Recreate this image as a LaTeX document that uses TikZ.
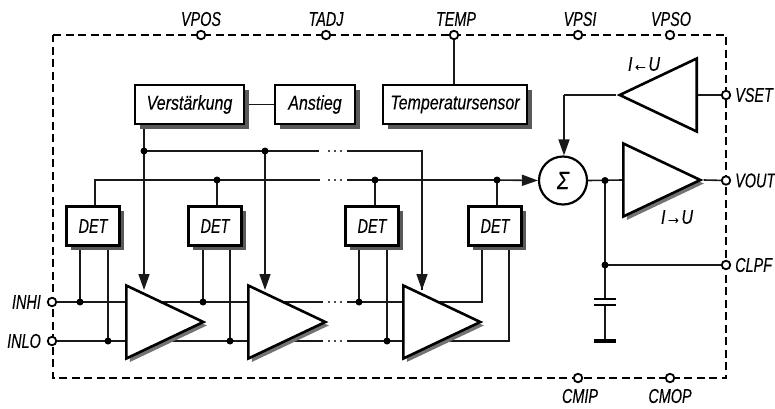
\documentclass[tikz,border=0pt]{standalone}
\usepackage{fontspec}
\setmainfont{Liberation Sans}[ItalicFont={Liberation Sans Italic},ItalicFeatures={FakeBold=0.2},FakeStretch=0.8]
\newfontfamily\pinfont{Liberation Sans Italic}[FakeBold=0.2,FakeStretch=0.72]
\usetikzlibrary{arrows.meta,shapes.geometric,shadows,backgrounds}
\tikzset{
  x=1pt,y=-1pt,
  every node/.style={font=\itshape\fontsize{20}{20}\selectfont,inner sep=0pt},
  pinlabel/.style={font=\pinfont\fontsize{20}{20}\selectfont},
  wire/.style={line width=1.6pt,draw=black!90},
  arrowwire/.style={wire,-{Triangle[length=16pt,width=11pt]}},
  framedash/.style={line width=2.4pt,dash pattern=on 8pt off 4.5pt},
  dotgap/.style={line width=1.6pt,draw=black!70,dash pattern=on 2pt off 4pt},
  boxnode/.style={draw,fill=white,line width=2.4pt,minimum height=39pt,
    general shadow={shadow xshift=4.5pt,shadow yshift=-4.5pt,fill=black!65}},
  detbox/.style={boxnode,pinlabel,minimum width=53pt},
  pin/.style={circle,draw,fill=white,line width=1.8pt,minimum size=8.5pt},
  junc/.style={circle,fill=black,minimum size=7pt},
  tri/.style={isosceles triangle,isosceles triangle stretches,draw,fill=white,
    line width=2.6pt,minimum width=73pt,minimum height=77pt,anchor=lower side},
  ampshadow/.style={general shadow={shadow xshift=3.5pt,shadow yshift=-3.5pt,fill=black!55}},
}
\begin{document}
\begin{tikzpicture}
\useasboundingbox (0,0) rectangle (775,408);
% function blocks
\node[boxnode,minimum width=109pt] (verst) at (189.5,104.5) {Verstärkung};
\node[boxnode,minimum width=80pt] (anst) at (315,104.5) {Anstieg};
\node[boxnode,minimum width=144pt] (tsens) at (455,104.5) {Temperatursensor};
\node[detbox] (det1) at (93,226) {DET};
\node[detbox] (det2) at (215,226) {DET};
\node[detbox] (det3) at (372,226) {DET};
\node[detbox] (det4) at (495,226) {DET};
% amplifiers
\node[tri,ampshadow] (amp1) at (125,322) {};
\node[tri,ampshadow] (amp2) at (247,322) {};
\node[tri,ampshadow] (amp3) at (402,322) {};
\node[tri,ampshadow] (amp4) at (622,180) {};
\node[tri,shape border rotate=180] (amp5) at (698,95) {};
\node[circle,draw,fill=white,line width=2.2pt,minimum size=48pt,font=\itshape\fontsize{25}{25}\selectfont] (sum) at (563,180.5) {Σ};
% pins
\node[pin] (vpos) at (201,35) {};
\node[pin] (tadj) at (326,35) {};
\node[pin] (temp) at (454,35) {};
\node[pin] (vpsi) at (578,35) {};
\node[pin] (vpso) at (670,35) {};
\node[pin] (vset) at (726,95) {};
\node[pin] (vout) at (726,180.5) {};
\node[pin] (clpf) at (726,265) {};
\node[pin] (inhi) at (52,302) {};
\node[pin] (inlo) at (52,341) {};
\node[pin] (cmip) at (578,378) {};
\node[pin] (cmop) at (670,378) {};
% pin labels
\node[pinlabel] (lvpos) at (201,19) {VPOS};
\node[pinlabel] (ltadj) at (326,19) {TADJ};
\node[pinlabel] (ltemp) at (456,19) {TEMP};
\node[pinlabel] (lvpsi) at (580,19) {VPSI};
\node[pinlabel] (lvpso) at (671,19) {VPSO};
\node[pinlabel,anchor=west] (lvset) at (735,95) {VSET};
\node[pinlabel,anchor=west] (lvout) at (735,180.5) {VOUT};
\node[pinlabel,anchor=west] (lclpf) at (735,265) {CLPF};
\node[pinlabel,anchor=east] (linhi) at (41,302) {INHI};
\node[pinlabel,anchor=east] (linlo) at (41,341) {INLO};
\node[pinlabel] (lcmip) at (580,396) {CMIP};
\node[pinlabel] (lcmop) at (670,396) {CMOP};
\node (liu) at (644,64) {I←U};
\node (lui) at (677,217) {I→U};
% junctions
\node[junc] (g1) at (144,151) {};
\node[junc] (g2) at (265,151) {};
\node[junc] (t2) at (217,180) {};
\node[junc] (t3) at (375,180) {};
\node[junc] (t4) at (497,180) {};
\node[junc] (h1) at (80,302) {};
\node[junc] (h2) at (203,302) {};
\node[junc] (h3) at (359,302) {};
\node[junc] (l1) at (108,341) {};
\node[junc] (l2) at (230,341) {};
\node[junc] (l3) at (387,341) {};
\node[junc] (o1) at (605,180.5) {};
\node[junc] (o2) at (605,265) {};
% helper points
\coordinate (t1) at (95,180);
\coordinate (g3) at (422,151);
\coordinate (gb1) at (319,151); \coordinate (gb2) at (347,151);
\coordinate (tb1) at (320,180); \coordinate (tb2) at (347,180);
\coordinate (hb1) at (323,302); \coordinate (hb2) at (347,302);
\coordinate (lb1) at (323,341); \coordinate (lb2) at (347,341);
\coordinate (a1) at (144,290); \coordinate (a2) at (265,290); \coordinate (a3) at (422,290);
\coordinate (h4) at (482,302); \coordinate (l4) at (509,341);
\coordinate (s1) at (564,95);
\coordinate (c1l) at (594,299); \coordinate (c1r) at (616,299);
\coordinate (c2l) at (594,305); \coordinate (c2r) at (616,305);
\coordinate (c3l) at (594,341); \coordinate (c3r) at (616,341);
\coordinate (c1) at (605,299); \coordinate (c2) at (605,305); \coordinate (c3) at (605,341);
\begin{scope}[on background layer]
  \draw[framedash] (53,35) -- (726,35) -- (726,378) -- (53,378) -- cycle;
  % top connections
  \draw[wire] (temp) -- (temp |- tsens.north);
  \draw[wire] (verst) -- (anst);
  \draw[wire] (g1 |- verst.south) -- (g1.center);
  % gain bus
  \draw[wire] (g1.center) -- (g2.center) -- (gb1);
  \draw[dotgap] ([xshift=9pt]gb1) -- ([xshift=-4pt]gb2);
  \draw[wire] (gb2) -- (g3) -- (g3 |- a3);
  \draw[arrowwire] (g1.center) -- (a1);
  \draw[arrowwire] (g2.center) -- (a2);
  \draw[arrowwire] (g3) -- (a3);
  % detector bus
  \draw[wire] (t1 |- det1.north) -- (t1) -- (t2.center) -- (tb1);
  \draw[dotgap] ([xshift=8pt]tb1) -- ([xshift=-4pt]tb2);
  \draw[wire] (tb2) -- (t3.center) -- (t4.center);
  \draw[arrowwire] (t4.center) -- (sum.west);
  \draw[wire] (t2.center) -- (t2 |- det2.north);
  \draw[wire] (t3.center) -- (t3 |- det3.north);
  \draw[wire] (t4.center) -- (t4 |- det4.north);
  % inputs
  \draw[wire] (inhi) -- (h1.center) -- (h2.center) -- (hb1);
  \draw[dotgap] ([xshift=5pt]hb1) -- ([xshift=-4pt]hb2);
  \draw[wire] (hb2) -- (h3.center) -- (h4) -- (h4 |- det4.south);
  \draw[wire] (inlo) -- (l1.center) -- (l2.center) -- (lb1);
  \draw[dotgap] ([xshift=5pt]lb1) -- ([xshift=-4pt]lb2);
  \draw[wire] (lb2) -- (l3.center) -- (l4) -- (l4 |- det4.south);
  \draw[wire] (h1.center) -- (h1 |- det1.south);
  \draw[wire] (l1.center) -- (l1 |- det1.south);
  \draw[wire] (h2.center) -- (h2 |- det2.south);
  \draw[wire] (l2.center) -- (l2 |- det2.south);
  \draw[wire] (h3.center) -- (h3 |- det3.south);
  \draw[wire] (l3.center) -- (l3 |- det3.south);
  % right side
  \draw[wire] (vset) -- (amp5.lower side);
  \draw[wire] (amp5.apex) -- (s1);
  \draw[arrowwire] (s1) -- (sum.north -| s1);
  \draw[wire] (sum.east) -- (amp4.lower side);
  \draw[wire] (amp4.apex) -- (vout);
  \draw[wire] (o1.center) -- (o2.center) -- (c1);
  \draw[wire] (o2.center) -- (clpf);
  \draw[wire] (c2) -- (c3);
  \draw[line width=2.6pt] (c1l) -- (c1r);
  \draw[line width=2.6pt] (c2l) -- (c2r);
  \draw[line width=3.2pt] (c3l) -- (c3r);
\end{scope}
\end{tikzpicture}
\end{document}
